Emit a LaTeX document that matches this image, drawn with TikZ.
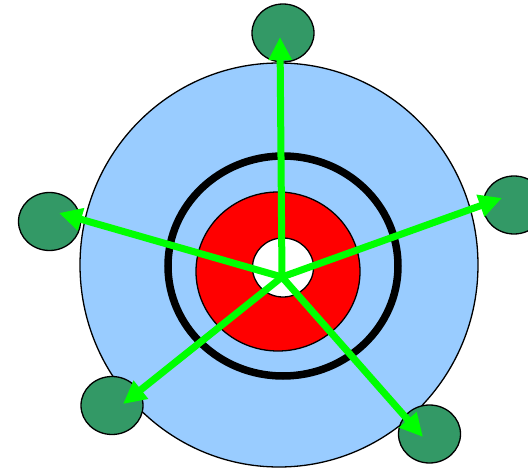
\documentclass[tikz,border=0pt]{standalone}
\usepackage{tikz}
\usetikzlibrary{arrows.meta, shapes.geometric}
\usepackage{xcolor}
\definecolor{hubblue}{HTML}{99CCFF}
\definecolor{hubred}{HTML}{FF0000}
\definecolor{spokegreen}{HTML}{00FF00}
\definecolor{leafgreen}{HTML}{339966}

\begin{document}
\begin{tikzpicture}[
    x=1pt, y=-1pt,
    disc/.style={draw, ellipse, line width=1.3pt, inner sep=0pt},
    leaf/.style={disc, fill=leafgreen, minimum width=62pt, minimum height=58pt},
    spoke/.style={-{Triangle[length=23pt, width=22pt]}, spokegreen, line width=7pt}]

  \useasboundingbox (0,0) rectangle (528,468);
  \clip (0,0) rectangle (528,468);

  \node[disc, fill=hubblue, minimum width=398pt, minimum height=404pt] (outer) at (279,265) {};
  \node[draw, ellipse, line width=7.5pt, minimum width=230pt, minimum height=220pt, inner sep=0pt] (ring) at (283,266) {};
  \node[disc, fill=hubred, minimum width=164pt, minimum height=159pt] (core) at (278,271.5) {};
  \node[disc, fill=white, minimum width=61pt, minimum height=59pt] (eye) at (283,267.5) {};

  \node[leaf] (top) at (283,33) {};
  \node[leaf] (left) at (49.5,221.5) {};
  \node[leaf] (right) at (514,205) {};
  \node[leaf] (lowleft) at (112,405.5) {};
  \node[leaf] (lowright) at (429.5,434) {};

  \coordinate (hub) at (282,277);
  \coordinate (toptip) at (280,37);
  \coordinate (lefttip) at (59,213);
  \coordinate (righttip) at (502,198);
  \coordinate (lowlefttip) at (123,404);
  \coordinate (lowrighttip) at (423,437);

  \draw[spoke] (hub) -- (toptip);
  \draw[spoke] (hub) -- (lefttip);
  \draw[spoke] (hub) -- (righttip);
  \draw[spoke] (hub) -- (lowlefttip);
  \draw[spoke] (hub) -- (lowrighttip);
\end{tikzpicture}
\end{document}
